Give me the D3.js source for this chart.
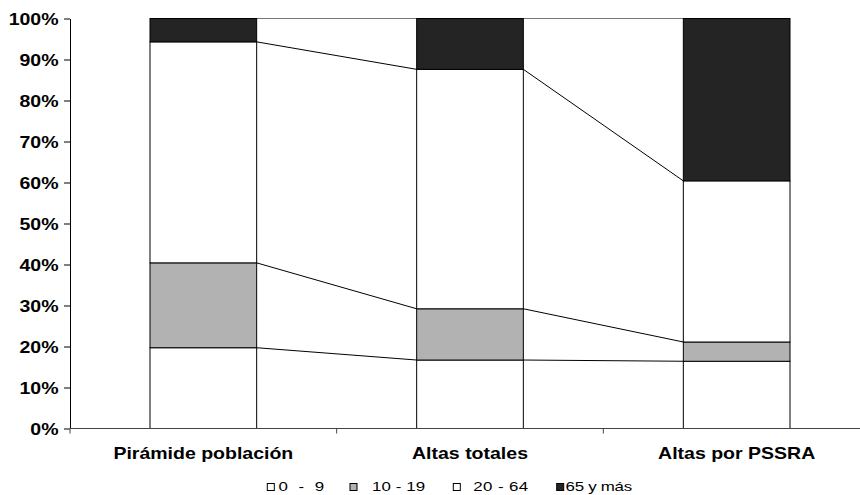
<!DOCTYPE html>
<html><head><meta charset="utf-8">
<script src="https://cdn.jsdelivr.net/npm/d3@7"></script>
<style>
body{margin:0;background:#fff;}
svg{display:block;font-family:Arial,"Liberation Sans",sans-serif;}
</style></head>
<body>
<svg id="chart" width="860" height="495"></svg>
<script>
const categories = ["Pirámide población", "Altas totales", "Altas por PSSRA"];
const seriesNames = ["0 - 9", "10 - 19", "20 - 64", "65 y más"];
const s0_9 = [19.7, 16.7, 16.4];
const s10_19 = [20.7, 12.5, 4.7];
const s20_64 = [53.9, 58.4, 39.3];
const s65 = [5.7, 12.4, 39.6];
const yTicks = [0,10,20,30,40,50,60,70,80,90,100];
const colors = ["#ffffff", "#b2b2b2", "#ffffff", "#242424"];

const svg = d3.select("#chart");
const SX = 1.22;

const rows = categories.map((c,i)=>({cat:c, "0 - 9":s0_9[i], "10 - 19":s10_19[i], "20 - 64":s20_64[i], "65 y más":s65[i]}));
const stacked = d3.stack().keys(seriesNames)(rows);

const x = d3.scaleBand().domain(categories).range([70, 870]).paddingInner(0.6).paddingOuter(0.3);
const y = d3.scaleLinear().domain([0,100]).range([428.5, 18.5]);

// connector lines
stacked.forEach((s, si) => {
  for (let i = 0; i < categories.length - 1; i++) {
    svg.append("line")
      .attr("x1", x(categories[i]) + x.bandwidth())
      .attr("x2", x(categories[i+1]))
      .attr("y1", y(s[i][1]))
      .attr("y2", y(s[i+1][1]))
      .attr("stroke", si === seriesNames.length - 1 ? "#777" : "#000")
      .attr("stroke-width", 1);
  }
});

// bars
stacked.forEach((s, si) => {
  svg.append("g").selectAll("rect").data(s).join("rect")
    .attr("x", (d,i) => x(categories[i]))
    .attr("width", x.bandwidth())
    .attr("y", d => y(d[1]))
    .attr("height", d => y(d[0]) - y(d[1]))
    .attr("fill", colors[si])
    .attr("stroke", "#000")
    .attr("stroke-width", 1);
});

// y axis
const yAxis = svg.append("g").attr("transform", "translate(70,0)")
  .call(d3.axisLeft(y).tickValues(yTicks).tickFormat(d => d + "%").tickSize(6).tickSizeOuter(0));
yAxis.select(".domain").attr("stroke", "#000");
yAxis.selectAll(".tick line").attr("stroke", "#000");
yAxis.selectAll("text")
  .attr("font-size", "16px").attr("font-weight", "bold").attr("fill", "#000")
  .attr("font-family", "Arial, 'Liberation Sans', sans-serif")
  .attr("x", -11.5 / SX).attr("dy", "0.36em")
  .attr("transform", `scale(${SX},1)`);

// x axis
const step = x.step();
const x0 = x.range()[0];
svg.append("line").attr("x1", x0).attr("x2", x.range()[1]).attr("y1", y(0)).attr("y2", y(0))
  .attr("stroke", "#444").attr("stroke-width", 1);
d3.range(categories.length + 1).forEach(i => {
  const bx = x0 + i * step;
  svg.append("line").attr("x1", bx).attr("x2", bx).attr("y1", y(0)).attr("y2", y(0) + 5)
    .attr("stroke", "#444").attr("stroke-width", 1);
});
svg.append("g").selectAll("text").data(categories).join("text")
  .attr("transform", d => `translate(${x(d) + x.bandwidth()/2},459) scale(${SX},1)`)
  .attr("text-anchor", "middle")
  .attr("font-size", "16px").attr("font-weight", "bold").attr("fill", "#000")
  .text(d => d);

// legend
const legX = [267.3, 350, 453.3, 556.7];
const legTX = [278.5, 372, 473.3, 565.5];
const legLen = [35.2, 40.8, 42.3, 51.3];
const leg = svg.append("g");
seriesNames.forEach((n, i) => {
  leg.append("rect").attr("x", legX[i]).attr("y", 483.5).attr("width", 7).attr("height", 7)
    .attr("fill", colors[i]).attr("stroke", "#000").attr("stroke-width", 1);
  leg.append("text")
    .attr("transform", `translate(${legTX[i]},491) scale(1.3,1)`)
    .attr("font-size", "13px").attr("fill", "#000")
    .attr("textLength", legLen[i]).attr("lengthAdjust", "spacing")
    .text(n);
});
</script>
</body></html>
